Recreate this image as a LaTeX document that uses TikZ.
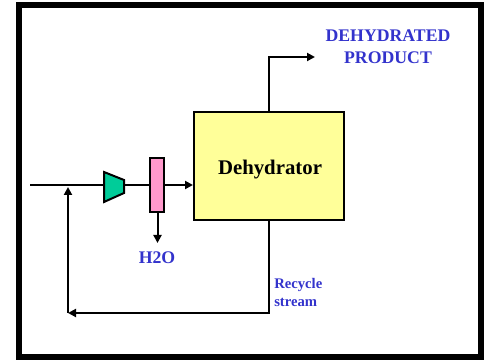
\documentclass[tikz,border=0pt]{standalone}
\usepackage{fontspec}
\setmainfont{Liberation Serif}
\usetikzlibrary{arrows.meta}
\definecolor{lbl}{RGB}{51,51,204}
\definecolor{boxy}{RGB}{255,255,153}
\definecolor{pinkb}{RGB}{255,153,204}
\definecolor{greent}{RGB}{0,204,153}
\tikzset{
  flow/.style={line width=1.5pt,-{Triangle[length=6pt,width=6pt]}},
  plain/.style={line width=1.5pt},
  lab/.style={text=lbl,font=\bfseries\fontsize{13.3}{16.5}\selectfont,align=center,inner sep=0pt},
  small/.style={text=lbl,font=\bfseries\fontsize{11}{13.5}\selectfont,align=left,inner sep=0pt}
}
\begin{document}
\begin{tikzpicture}[x=0.75pt,y=-0.75pt]
\useasboundingbox (0,0) rectangle (487,360);
\draw[line width=4.5pt] (19,5) rectangle (481,357);
\node[draw,line width=1.5pt,fill=boxy,minimum width=112.5pt,minimum height=81pt,inner sep=0pt] (dehyd) at (269,166) {};
\node[font=\bfseries\fontsize{15.6}{18}\selectfont,inner sep=0pt] (dlabel) at (270,170) {Dehydrator};
\node[draw,line width=1.5pt,fill=pinkb,minimum width=10.5pt,minimum height=40.5pt,inner sep=0pt] (sep) at (157,185) {};
\draw[line width=1.5pt,fill=greent] (104,172) -- (124,180) -- (124,193) -- (104,202) -- cycle;
\coordinate (compL) at (104,185);
\coordinate (compR) at (124,185);
\coordinate (feed) at (30,185);
\coordinate (prodEnd) at (315,57);
\coordinate (prodCorner) at (269,57);
\coordinate (recBot) at (269,313);
\coordinate (recLeft) at (68,313);
\coordinate (recUp) at (68,187);
\coordinate (water) at (157.5,243);
\draw[plain] (feed) -- (compL);
\draw[plain] (compR) -- (sep.west);
\draw[flow] (sep.east) -- (dehyd.west |- sep.east);
\draw[flow] (sep.south -| water) -- (water);
\draw[flow] (dehyd.north -| prodCorner) -- (prodCorner) -- (prodEnd);
\draw[flow] (dehyd.south -| recBot) -- (recBot) -- (recLeft);
\draw[flow] (recLeft) -- (recUp);
\node[lab] (prod) at (388,47) {DEHYDRATED\\PRODUCT};
\node[lab] (h2o) at (157,258) {H2O};
\node[small,anchor=west] (rec) at (274,292) {Recycle\\stream};
\end{tikzpicture}
\end{document}
